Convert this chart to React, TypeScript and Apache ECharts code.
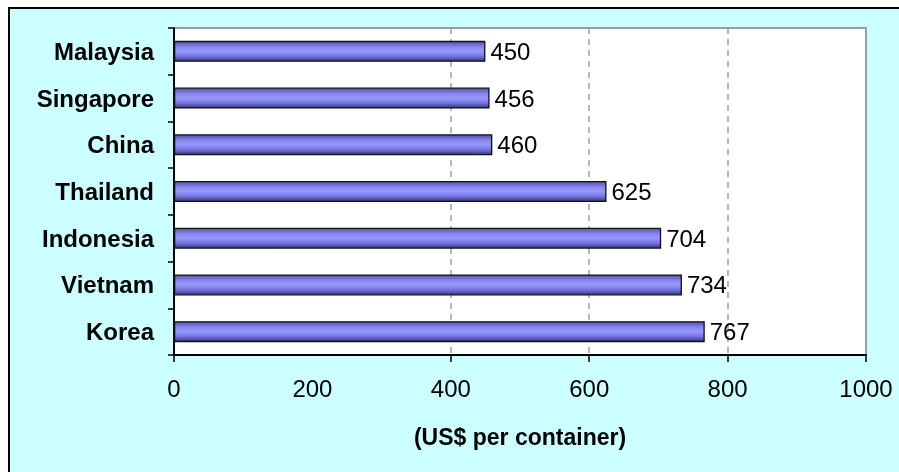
import React, { useEffect, useRef } from "react";
import * as echarts from "echarts";

// Container handling cost by country
const countries = ["Malaysia", "Singapore", "China", "Thailand", "Indonesia", "Vietnam", "Korea"];
const costs = [450, 456, 460, 625, 704, 734, 767];

// Value axis
const axisMin = 0;
const axisMax = 1000;
const axisStep = 200;
const tickValues = [0, 400, 600, 800, 1000];
const axisTitle = "(US$ per container)";

const plainFont = "'Liberation Sans', Arial, sans-serif";
const boldFont = "'Liberation Sans', Arial, sans-serif";

export default function App() {
  const ref = useRef<HTMLDivElement>(null);

  useEffect(() => {
    if (!ref.current) return;
    const chart = echarts.init(ref.current, null, { renderer: "svg" });

    const barFill = new echarts.graphic.LinearGradient(0, 0, 0, 1, [
      { offset: 0, color: "#5252ac" },
      { offset: 0.3, color: "#8a8af2" },
      { offset: 0.5, color: "#9696ff" },
      { offset: 0.75, color: "#7474dc" },
      { offset: 1, color: "#363680" },
    ]);

    chart.setOption({
      animation: false,
      graphic: [
        {
          type: "rect",
          z: -10,
          silent: true,
          shape: { x: 9, y: 8, width: 900, height: 480 },
          style: { fill: "#CCFFFF", stroke: "#000000", lineWidth: 2 },
        },
      ],
      grid: {
        left: 174,
        top: 28,
        right: 33,
        bottom: 117,
        show: true,
        backgroundColor: "#ffffff",
        borderColor: "#9c9c9c",
        borderWidth: 2,
        containLabel: false,
        outerBoundsMode: "none",
      },
      xAxis: {
        type: "value",
        min: axisMin,
        max: axisMax,
        interval: axisStep,
        name: axisTitle,
        nameLocation: "middle",
        nameGap: 70,
        nameTextStyle: {
          fontFamily: boldFont,
          fontWeight: "bold",
          fontSize: 23,
          color: "#000",
        },
        axisLine: { show: true, lineStyle: { color: "#000", width: 2 } },
        axisTick: {
          show: true,
          customValues: tickValues,
          length: 7,
          lineStyle: { color: "#000", width: 1.5 },
        },
        axisLabel: {
          margin: 21,
          fontFamily: plainFont,
          fontSize: 24,
          color: "#000",
          formatter: (v: number) => String(v),
        },
        splitLine: {
          show: true,
          lineStyle: { color: "#a0a0a0", width: 1.5, type: [6, 5] },
        },
      },
      yAxis: {
        type: "category",
        inverse: true,
        data: countries,
        axisLine: { show: true, lineStyle: { color: "#000", width: 2 } },
        axisTick: { show: true, length: 6, lineStyle: { color: "#000", width: 1.5 } },
        axisLabel: {
          margin: 20,
          fontFamily: boldFont,
          fontWeight: "bold",
          fontSize: 24,
          color: "#000",
        },
        splitLine: { show: false },
      },
      series: [
        {
          type: "bar",
          data: costs,
          barWidth: 21,
          itemStyle: { color: barFill, borderColor: "#111111", borderWidth: 1.3 },
          label: {
            show: true,
            position: "right",
            distance: 5,
            fontFamily: plainFont,
            fontSize: 24,
            color: "#000",
          },
        },
      ],
    });

    return () => chart.dispose();
  }, []);

  return (
    <div
      ref={ref}
      style={{ position: "fixed", left: 0, top: 0, width: 899, height: 472 }}
    />
  );
}
